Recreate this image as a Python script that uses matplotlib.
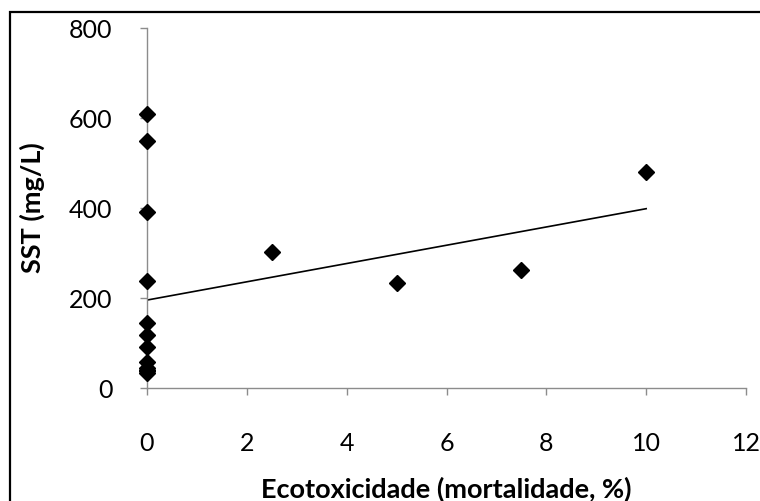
import numpy as np
import matplotlib
matplotlib.use("Agg")
import matplotlib.pyplot as plt
from matplotlib.patches import Rectangle

plt.rcParams['font.family'] = ['Lato', 'DejaVu Sans']

# Mortality (%) and total suspended solids (mg/L)
mortalidade = [0, 0, 0, 0, 0, 0, 0, 0, 0, 0, 0, 0, 2.5, 5, 7.5, 10]
sst = [610, 549, 391, 238, 144, 118, 92, 58, 44, 40, 38, 33, 303, 234, 262, 480]

x_ticks = [0, 2, 4, 6, 8, 10, 12]
y_ticks = [0, 200, 400, 600, 800]

W, H = 760, 501
fig = plt.figure(figsize=(W / 100, H / 100), dpi=100)
ax = fig.add_axes([147 / W, 1 - 388 / H, (746 - 147) / W, (388 - 28) / H])

x = np.array(mortalidade, dtype=float)
y = np.array(sst, dtype=float)

# Linear trend line over the data range
slope, intercept = np.polyfit(x, y, 1)
xl = np.array([x.min(), x.max()])
ax.plot(xl, intercept + slope * xl, color='black', lw=1.2, zorder=2)

ax.plot(x, y, linestyle='none', marker='D', markersize=8.5, color='black',
        zorder=3, clip_on=False)

ax.set_xlim(0, 12)
ax.set_ylim(0, 800)
ax.set_xticks(x_ticks)
ax.set_yticks(y_ticks)
ax.set_xticklabels([str(v) for v in x_ticks])
ax.set_yticklabels([str(v) for v in y_ticks])

for side in ('top', 'right'):
    ax.spines[side].set_visible(False)
for side in ('left', 'bottom'):
    ax.spines[side].set_color('#8c8c8c')
    ax.spines[side].set_linewidth(1.0)
ax.tick_params(axis='both', direction='out', length=5, width=1.0, color='#8c8c8c',
               labelsize=18, labelcolor='black')
ax.tick_params(axis='x', pad=27)
ax.tick_params(axis='y', pad=20)

ax.set_xlabel('Ecotoxicidade (mortalidade, %)', fontsize=19.5, fontweight='bold', labelpad=15)
ax.set_ylabel('SST (mg/L)', fontsize=19.5, fontweight='bold', labelpad=17)

# Chart-area frame
fig.patches.append(Rectangle((10 / W, -0.05), 1.1, 1 - 11.5 / H + 0.05,
                             transform=fig.transFigure, fill=False,
                             edgecolor='black', lw=1.6))

fig.savefig('out.png', dpi=100)
